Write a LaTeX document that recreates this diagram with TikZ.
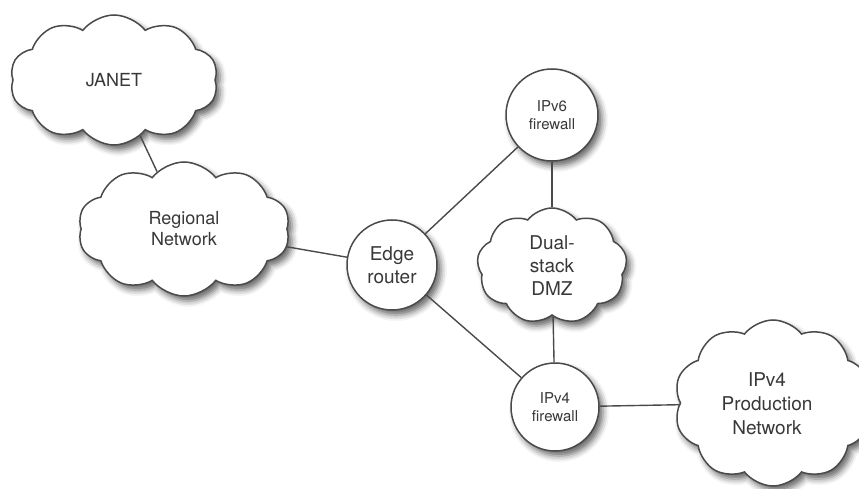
\documentclass[tikz,border=0pt]{standalone}
\usepackage{fontspec}
\setmainfont{TeX Gyre Heros}
\usetikzlibrary{shapes.symbols,shadows.blur}
\definecolor{edgegray}{HTML}{4A4A4A}
\definecolor{textgray}{HTML}{383838}
\tikzset{
  base/.style={draw=edgegray, line width=1.5pt, fill=white, text=textgray, align=center,
    blur shadow={shadow xshift=4pt, shadow yshift=-5pt, shadow blur radius=6pt, shadow opacity=60}},
  netcloud/.style={base, cloud, cloud puffs=10, cloud puff arc=105, cloud ignores aspect, inner sep=0pt},
  device/.style={base, circle, minimum size=#1, inner sep=0pt},
  link/.style={draw=edgegray, line width=1.4pt}
}
\begin{document}
\begin{tikzpicture}[x=1pt,y=-1pt]
\useasboundingbox (0,0) rectangle (859,489);
\node[netcloud, minimum width=208pt, minimum height=130pt, font=\fontsize{18}{21}\selectfont] (janet) at (114,80) {JANET};
\node[netcloud, minimum width=212pt, minimum height=134pt, font=\fontsize{18}{21}\selectfont] (regional) at (184,229) {Regional\\Network};
\node[device=90pt, font=\fontsize{19}{23}\selectfont] (edge) at (392,265) {Edge\\router};
\node[device=92pt, font=\fontsize{15}{18}\selectfont] (v6fw) at (552,115) {IPv6\\firewall};
\node[netcloud, cloud puffs=9, minimum width=150pt, minimum height=116pt, font=\fontsize{19}{23}\selectfont] (dmz) at (552,266) {Dual-\\stack\\DMZ};
\node[device=88pt, font=\fontsize{15}{18}\selectfont] (v4fw) at (555,407) {IPv4\\firewall};
\node[netcloud, minimum width=198pt, minimum height=166pt] (prod) at (773,403) {};
\node[text=textgray, align=center, font=\fontsize{19}{24}\selectfont] (prodtext) at (767,404) {IPv4\\Production\\Network};
\draw[link] (janet) -- (regional);
\draw[link] (regional) -- (edge);
\draw[link] (edge) -- (v6fw);
\draw[link] (edge) -- (v4fw);
\draw[link] (v6fw) -- (dmz);
\draw[link] (dmz) -- (v4fw);
\draw[link] (v4fw) -- (prod);
\end{tikzpicture}
\end{document}
